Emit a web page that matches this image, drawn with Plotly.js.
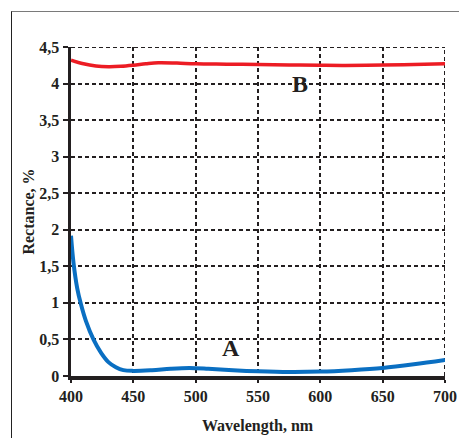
<!DOCTYPE html>
<html>
<head>
<meta charset="utf-8">
<script src="https://cdn.plot.ly/plotly-3.0.1.min.js"></script>
<style>
  html, body { margin: 0; padding: 0; background: #ffffff; }
  #wrap { position: relative; width: 459px; height: 438px; overflow: hidden; }
  #frame { position: absolute; left: 11px; top: 11px; width: 460px; height: 440px;
           border-top: 1.5px solid #7a7a7a; border-left: 1.5px solid #222; pointer-events: none; }
  #chart { position: absolute; left: 0; top: 0; width: 459px; height: 438px; }
</style>
</head>
<body>
<div id="wrap">
  <div id="frame"></div>
  <div id="chart"></div>
</div>
<script>
// Curve A (blue)
const wavelengthA = [400, 402, 405, 408, 412, 418, 424, 430, 436, 442, 450, 465, 480, 495, 510, 530, 550, 575, 600, 625, 650, 675, 700];
const reflectA    = [1.92, 1.55, 1.2, 0.98, 0.75, 0.5, 0.32, 0.19, 0.12, 0.08, 0.07, 0.08, 0.10, 0.11, 0.10, 0.08, 0.065, 0.055, 0.06, 0.08, 0.11, 0.16, 0.22];
// Curve B (red)
const wavelengthB = [400, 410, 420, 430, 440, 450, 460, 470, 485, 500, 525, 550, 575, 600, 620, 650, 675, 700];
const reflectB    = [4.32, 4.27, 4.24, 4.23, 4.235, 4.25, 4.27, 4.285, 4.28, 4.27, 4.265, 4.26, 4.255, 4.25, 4.248, 4.255, 4.26, 4.27];

const xTickVals = [400, 450, 500, 550, 600, 650, 700];
const xTickText = ["400", "450", "500", "550", "600", "650", "700"];
const yTickVals = [0, 0.5, 1, 1.5, 2, 2.5, 3, 3.5, 4, 4.5];
const yTickText = ["0", "0,5", "1", "1,5", "2", "2,5", "3", "3,5", "4", "4,5"];

const xTitle = "Wavelength, nm";
const yTitle = "Rectance, %";

const labelA = {text: "A", x: 528, y: 0.38};
const labelB = {text: "B", x: 584, y: 3.99};

const serif = "Liberation Serif, Times New Roman, serif";
const ink = "#231f20";
const gridStyle = {color: ink, width: 2, dash: "4px,3px"};

const traces = [
  {x: wavelengthB, y: reflectB, mode: "lines", line: {color: "#ec1c24", width: 3.5, shape: "spline", smoothing: 1}, hoverinfo: "skip"},
  {x: wavelengthA, y: reflectA, mode: "lines", line: {color: "#0a6fc2", width: 4, shape: "spline", smoothing: 1}, hoverinfo: "skip"}
];

// Edge gridlines (Plotly omits gridlines at the range ends), taken from the tick arrays
const xMax = xTickVals[xTickVals.length - 1];
const yMax = yTickVals[yTickVals.length - 1];
const shapes = [
  {type: "line", xref: "x", yref: "paper", x0: xMax, x1: xMax, y0: 0, y1: 1, line: gridStyle, layer: "below"},
  {type: "line", xref: "paper", yref: "y", x0: 0, x1: 1, y0: yMax, y1: yMax, line: gridStyle, layer: "below"}
];

const annotations = [labelA, labelB].map(l => ({
  x: l.x, y: l.y, xref: "x", yref: "y", text: "<b>" + l.text + "</b>", showarrow: false,
  font: {family: serif, size: 24, color: ink}
}));
// x-axis title placed as annotation so it can sit near the bottom edge, as in the original
annotations.push({
  x: 0.5, y: -0.152, xref: "paper", yref: "paper", xanchor: "center", yanchor: "middle",
  text: "<b>" + xTitle + "</b>", showarrow: false,
  font: {family: serif, size: 16, color: ink}
});

const layout = {
  width: 459, height: 438,
  margin: {l: 71, r: 14, t: 47, b: 62},
  paper_bgcolor: "rgba(0,0,0,0)",
  plot_bgcolor: "rgba(0,0,0,0)",
  showlegend: false,
  font: {family: serif, color: ink},
  xaxis: {
    range: [400, 700], tickvals: xTickVals, ticktext: xTickText,
    showgrid: true, gridcolor: ink, gridwidth: 2, griddash: "4px,3px",
    showline: true, linecolor: ink, linewidth: 4,
    ticks: "outside", ticklen: 3, tickwidth: 2, tickcolor: ink,
    tickfont: {family: serif, size: 16, color: ink, weight: "bold"},
    zeroline: false
  },
  yaxis: {
    range: [0, 4.5], tickvals: yTickVals, ticktext: yTickText,
    showgrid: true, gridcolor: ink, gridwidth: 2, griddash: "4px,3px",
    showline: true, linecolor: ink, linewidth: 3.5,
    ticks: "outside", ticklen: 5, tickwidth: 2, tickcolor: ink,
    tickfont: {family: serif, size: 16, color: ink, weight: "bold"},
    zeroline: false,
    title: {text: "<b>" + yTitle + "</b>", font: {family: serif, size: 16, color: ink}, standoff: 1}
  },
  shapes: shapes,
  annotations: annotations
};

Plotly.newPlot("chart", traces, layout, {displayModeBar: false, staticPlot: true});
</script>
</body>
</html>
